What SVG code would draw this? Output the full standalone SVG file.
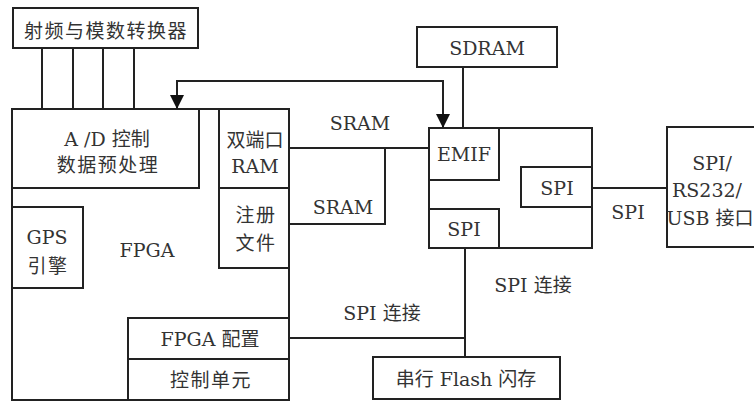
<svg xmlns="http://www.w3.org/2000/svg" width="754" height="403" viewBox="0 0 754 403">
<defs>
<style>
rect{fill:none;stroke:#222;stroke-width:2}
.c path{fill:none;stroke:#222;stroke-width:2}
text{font-family:"DejaVu Serif","Noto Sans CJK SC",serif;font-size:19px;fill:#333;text-anchor:middle;dominant-baseline:central}
.cj{letter-spacing:1.5px}
</style>
<marker id="ah" viewBox="0 0 10 10" refX="10" refY="5" markerWidth="7.5" markerHeight="7" markerUnits="strokeWidth" orient="auto-start-reverse">
<path d="M0,0 L10,5 L0,10 Z" fill="#111"/>
</marker>
</defs>
<rect x="0" y="0" width="754" height="403" style="fill:#fff;stroke:none"/>
<g id="rf"><rect x="13" y="8" width="185" height="40"/><text class="cj" x="106" y="31">射频与模数转换器</text></g>
<g id="fpga"><rect x="12" y="109" width="277" height="291"/><text x="147" y="250">FPGA</text></g>
<g id="ad"><rect x="12" y="109" width="187" height="79"/><text x="107" y="139">A /D 控制</text><text class="cj" x="108" y="165">数据预处理</text></g>
<g id="dpram"><rect x="219" y="109" width="70" height="79"/><text x="255" y="140">双端口</text><text x="255" y="166">RAM</text></g>
<g id="regfile"><rect x="219" y="188" width="70" height="80"/><text class="cj" x="256" y="215">注册</text><text class="cj" x="256" y="243">文件</text></g>
<g id="gps"><rect x="12" y="207" width="71" height="81"/><text x="47" y="237">GPS</text><text class="cj" x="48" y="266">引擎</text></g>
<g id="fpgacfg"><rect x="128" y="318" width="161" height="41"/><text x="210" y="339">FPGA 配置</text></g>
<g id="ctrl"><rect x="128" y="359" width="161" height="41"/><text class="cj" x="211" y="380">控制单元</text></g>
<g id="sdram"><rect x="417" y="27" width="140" height="40"/><text x="487" y="48">SDRAM</text></g>
<g id="dsp"><rect x="429" y="128" width="163" height="120"/></g>
<g id="emif"><rect x="429" y="128" width="70" height="52"/><text x="464" y="154">EMIF</text></g>
<g id="spi1"><rect x="429" y="209" width="70" height="39"/><text x="464" y="229">SPI</text></g>
<g id="spi2"><rect x="521" y="167" width="71" height="40"/><text x="557" y="188">SPI</text></g>
<g id="iface"><rect x="667" y="127" width="91" height="120"/><text x="712" y="163">SPI/</text><text x="707" y="190">RS232/</text><text x="710" y="218">USB 接口</text></g>
<g id="flash"><rect x="373" y="357" width="187" height="42"/><text x="466" y="379">串行 Flash 闪存</text></g>
<g id="connectors" class="c">
<path d="M42,48 V109 M73,48 V109 M103,48 V109 M134,48 V109"/>
<path d="M177,109 V81 H443 V128" marker-start="url(#ah)" marker-end="url(#ah)"/>
<path d="M289,148 H429"/>
<path d="M289,224 H385 V148"/>
<path d="M463,67 V128"/>
<path d="M592,188 H667"/>
<path d="M289,338 H465"/>
<path d="M465,248 V357"/>
</g>
<g id="labels">
<text x="360" y="123">SRAM</text>
<text x="343" y="207">SRAM</text>
<text x="628" y="212">SPI</text>
<text x="382" y="313">SPI 连接</text>
<text x="533" y="285">SPI 连接</text>
</g>
</svg>
